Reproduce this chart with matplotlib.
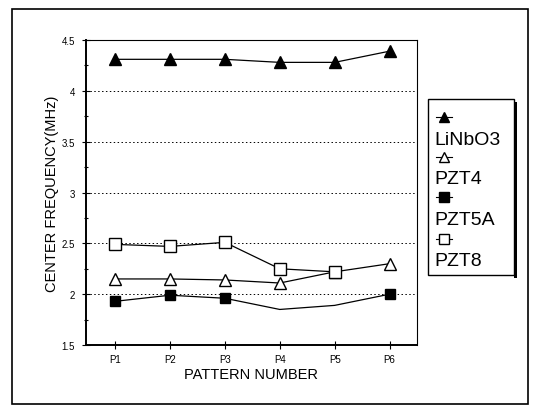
import matplotlib.pyplot as plt
from matplotlib.lines import Line2D
from matplotlib.patches import Rectangle

plt.rcParams['font.family'] = ['Liberation Sans', 'DejaVu Sans']

# Datos
patrones = ['P1', 'P2', 'P3', 'P4', 'P5', 'P6']
linbo3 = [4.31, 4.31, 4.31, 4.28, 4.28, 4.39]
pzt4 = [2.15, 2.15, 2.14, 2.11, 2.22, 2.30]
pzt5a = [1.93, 1.99, 1.96, 1.85, 1.89, 2.00]
pzt8 = [2.49, 2.47, 2.51, 2.25, 2.22]
y_ticks = [1.5, 2, 2.5, 3, 3.5, 4, 4.5]
y_labels = ['1.5', '2', '2.5', '3', '3.5', '4', '4.5']

x = list(range(1, len(patrones) + 1))

fig = plt.figure(figsize=(5.39, 4.10), dpi=100)
ax = fig.add_axes([0.1596, 0.156, 0.614, 0.744])

# marco exterior
fig.patches.append(Rectangle((0.022, 0.012), 0.958, 0.964, transform=fig.transFigure,
                             fill=False, edgecolor='black', linewidth=1.2))

ax.plot(x, linbo3, color='black', lw=0.9, marker='^', ms=8, mfc='black', mec='black')
ax.plot(x, pzt4, color='black', lw=0.9, marker='^', ms=8, mfc='white', mec='black')
ax.plot(x, pzt5a, color='black', lw=0.9, marker='s', ms=7.5, mfc='black', mec='black',
        markevery=[0, 1, 2, 5])
ax.plot(x[:len(pzt8)], pzt8, color='black', lw=0.9, marker='s', ms=8, mfc='white', mec='black')

ax.set_xlim(0.47, 6.5)
ax.set_ylim(1.5, 4.5)
ax.set_xticks(x)
ax.set_xticklabels(patrones, fontsize=7)
ax.set_yticks(y_ticks)
ax.set_yticklabels(y_labels, fontsize=7)
ax.set_yticks([1.75, 2.25, 2.75, 3.25, 3.75, 4.25], minor=True)
ax.tick_params(axis='both', direction='inout', length=6, width=0.8)
ax.tick_params(axis='y', which='minor', direction='inout', length=3, width=0.8)
ax.tick_params(axis='y', pad=5)
ax.grid(axis='y', linestyle=(0, (1.5, 2.5)), color='black', linewidth=0.7)

ax.spines['left'].set_linewidth(1.4)
ax.spines['bottom'].set_linewidth(1.4)
ax.spines['top'].set_linewidth(0.8)
ax.spines['right'].set_linewidth(0.8)

ax.set_xlabel('PATTERN NUMBER', fontsize=10.5, labelpad=2)
ax.set_ylabel('CENTER FREQUENCY(MHz)', fontsize=10.5, labelpad=2)

# leyenda con el simbolo encima del nombre (sombra a la derecha)
fig.patches.append(Rectangle((514 / 539, 1 - 279 / 410), 3 / 539, 176 / 410,
                             transform=fig.transFigure, facecolor='black', edgecolor='none'))
fig.patches.append(Rectangle((428 / 539, 1 - 276 / 410), 86 / 539, 176 / 410,
                             transform=fig.transFigure, facecolor='white',
                             edgecolor='black', linewidth=1.0))
nombres = ['LiNbO3', 'PZT4', 'PZT5A', 'PZT8']
marcas = [('^', 'black'), ('^', 'white'), ('s', 'black'), ('s', 'white')]
y_marca = [118, 158, 198, 240]
y_texto = [141, 180, 221, 262]
for nombre, (m, fc), ym, yt in zip(nombres, marcas, y_marca, y_texto):
    fy = 1 - ym / 410
    fig.add_artist(Line2D([436 / 539, 452 / 539], [fy, fy], color='black', lw=0.8,
                          transform=fig.transFigure))
    fig.add_artist(Line2D([444 / 539], [fy], marker=m, ms=7, mfc=fc, mec='black',
                          transform=fig.transFigure))
    fig.text(434 / 539, 1 - yt / 410, nombre, fontsize=14, va='center', ha='left')

fig.savefig('out.png', dpi=100)
